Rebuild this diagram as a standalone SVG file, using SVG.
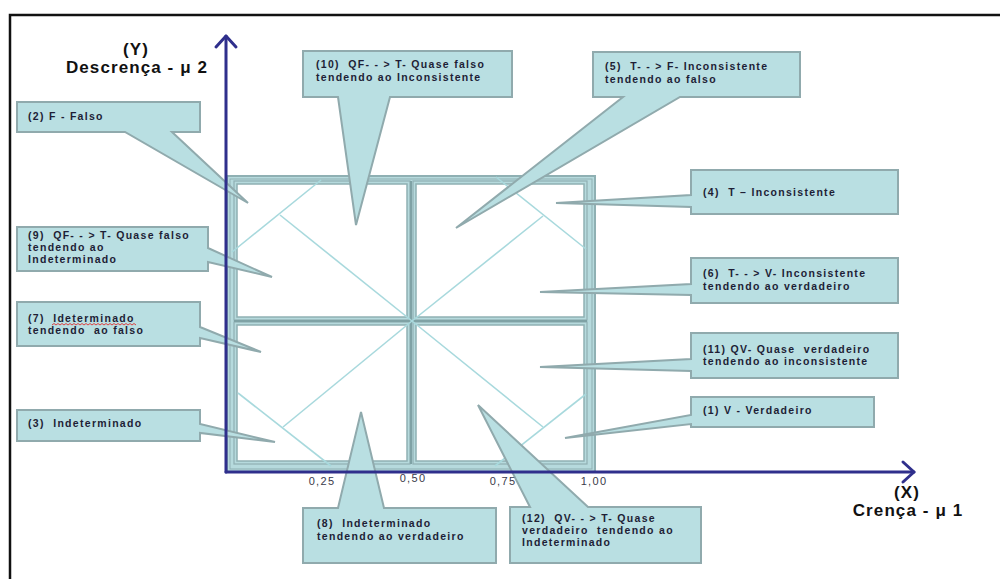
<svg xmlns="http://www.w3.org/2000/svg" width="1000" height="579" viewBox="0 0 1000 579">
<style>
.co{fill:#b9dfe2;stroke:#90aaad;stroke-width:2;stroke-linejoin:miter}
.ct{font-family:"Liberation Sans",Arial,sans-serif;font-size:10.5px;font-weight:bold;fill:#1e1e36;letter-spacing:1.3px;white-space:pre}
.ax{font-family:"Liberation Sans",Arial,sans-serif;font-size:17px;font-weight:bold;fill:#111;letter-spacing:1.1px;text-anchor:middle;white-space:pre}
.tk{font-family:"Liberation Sans",Arial,sans-serif;font-size:11px;fill:#3a3a4a;letter-spacing:1.3px;text-anchor:middle}
.diag{stroke:#a8d9dd;stroke-width:1.6;fill:none}
.cellw{fill:#fff;stroke:#8fb0b3;stroke-width:1.5}
.cello{fill:none;stroke:#8fb0b3;stroke-width:1.2}
.axis{stroke:#2f2f8c;stroke-width:3;fill:none;stroke-linecap:round;stroke-linejoin:round}
</style>
<rect x="0" y="0" width="1000" height="579" fill="#fff"/>
<path d="M10,1000 V15 H1000" fill="none" stroke="#111" stroke-width="2.5"/>

<g id="grid">
<rect x="227" y="176" width="368" height="296" fill="#b6dadd" stroke="#8fb0b3" stroke-width="2"/>
<rect x="230" y="179" width="362" height="290" fill="none" stroke="#8fb0b3" stroke-width="1"/>
<rect class="cello" x="234" y="181" width="176" height="139"/>
<rect class="cello" x="413" y="181" width="174" height="139"/>
<rect class="cello" x="234" y="322" width="176" height="142"/>
<rect class="cello" x="413" y="322" width="174" height="142"/>
<rect class="cellw" x="237" y="184" width="170" height="133"/>
<rect class="cellw" x="416" y="184" width="168" height="133"/>
<rect class="cellw" x="237" y="325" width="170" height="136"/>
<rect class="cellw" x="416" y="325" width="168" height="136"/>
<line x1="411" y1="181" x2="411" y2="464" stroke="#7fa2a5" stroke-width="2"/>
<line x1="234" y1="321" x2="587" y2="321" stroke="#7fa2a5" stroke-width="2"/>
<g class="diag">
<line x1="232" y1="252" x2="321" y2="180"/>
<line x1="280" y1="215" x2="412" y2="321"/>
<line x1="496" y1="177" x2="586" y2="249"/>
<line x1="543" y1="216" x2="412" y2="321"/>
<line x1="238" y1="393" x2="331" y2="466"/>
<line x1="283" y1="427" x2="412" y2="321"/>
<line x1="586" y1="394" x2="495" y2="466"/>
<line x1="543" y1="427" x2="412" y2="321"/>
</g>
</g>

<g id="n2"><path class="co" d="M17,102 H200 V132 H172 L248,203 L125,132 H17 Z"/><text class="ct" x="28" y="120">(2) F - Falso</text></g>
<g id="n10"><path class="co" d="M303,51 H512 V97 H390 L356,225 L338,97 H303 Z"/><text class="ct" x="316" y="68">(10)  QF- - &gt; T- Quase falso</text><text class="ct" x="316" y="81">tendendo ao Inconsistente</text></g>
<g id="n5"><path class="co" d="M593,52 H800 V97 H680 L456,228 L623,97 H593 Z"/><text class="ct" x="605" y="70">(5)  T- - &gt; F- Inconsistente</text><text class="ct" x="605" y="83">tendendo ao falso</text></g>
<g id="n4"><path class="co" d="M691,170 H898 V214 H691 V207 L556,203 L691,195 Z"/><text class="ct" x="703" y="196">(4)  T – Inconsistente</text></g>
<g id="n9"><path class="co" d="M17,227 H208 V248 L272,277 L208,262 V271 H17 Z"/><text class="ct" x="28" y="239">(9)  QF- - &gt; T- Quase falso</text><text class="ct" x="28" y="251">tendendo ao</text><text class="ct" x="28" y="263">Indeterminado</text></g>
<g id="n6"><path class="co" d="M691,258 H898 V303 H691 V295 L540,292 L691,284 Z"/><text class="ct" x="703" y="277">(6)  T- - &gt; V- Inconsistente</text><text class="ct" x="703" y="290">tendendo ao verdadeiro</text></g>
<g id="n7"><path class="co" d="M17,302 H200 V327 L261,352 L200,338 V346 H17 Z"/><text class="ct" x="28" y="322">(7)  Ideterminado</text><text class="ct" x="28" y="334">tendendo  ao falso</text><path d="M52,325 l2,-1.5 l2,1.5 l2,-1.5 l2,1.5 l2,-1.5 l2,1.5 l2,-1.5 l2,1.5 l2,-1.5 l2,1.5 l2,-1.5 l2,1.5 l2,-1.5 l2,1.5 l2,-1.5 l2,1.5 l2,-1.5 l2,1.5 l2,-1.5 l2,1.5 l2,-1.5 l2,1.5 l2,-1.5 l2,1.5 l2,-1.5 l2,1.5 l2,-1.5 l2,1.5 l2,-1.5 l2,1.5 l2,-1.5 l2,1.5 l2,-1.5 l2,1.5 l2,-1.5 l2,1.5 l2,-1.5 l2,1.5 l2,-1.5 l2,1.5 l2,-1.5 l2,1.5" fill="none" stroke="#e03030" stroke-width="0.9"/></g>
<g id="n11"><path class="co" d="M691,333 H898 V378 H691 V371 L540,367 L691,359 Z"/><text class="ct" x="703" y="353">(11) QV- Quase  verdadeiro</text><text class="ct" x="703" y="365">tendendo ao inconsistente</text></g>
<g id="n3"><path class="co" d="M17,410 H200 V424 L275,442 L200,433 V441 H17 Z"/><text class="ct" x="28" y="427">(3)  Indeterminado</text></g>
<g id="n1"><path class="co" d="M691,397 H874 V427 H691 V424 L565,438 L691,415 Z"/><text class="ct" x="703" y="414">(1) V - Verdadeiro</text></g>
<g id="n8"><path class="co" d="M303,508 H338 L361,412 L384,508 H496 V563 H303 Z"/><text class="ct" x="317" y="527">(8)  Indeterminado</text><text class="ct" x="317" y="540">tendendo ao verdadeiro</text></g>
<g id="n12"><path class="co" d="M510,507 H530 L478,405 L588,507 H701 V563 H510 Z"/><text class="ct" x="522" y="522">(12)  QV- - &gt; T- Quase</text><text class="ct" x="522" y="534">verdadeiro  tendendo ao</text><text class="ct" x="522" y="546">Indeterminado</text></g>

<g id="connectors">
<path class="axis" d="M226,472 V36"/>
<path class="axis" d="M216,47 L226,36 L236,47"/>
<path class="axis" d="M226,472 H914"/>
<path class="axis" d="M903,462 L914,472 L903,482"/>
</g>

<g id="labels">
<text class="ax" x="136" y="55">(Y)</text>
<text class="ax" x="137" y="73">Descrença - μ 2</text>
<text class="ax" x="907" y="498">(X)</text>
<text class="ax" x="908" y="516">Crença - μ 1</text>
<text class="tk" x="322" y="485">0,25</text>
<text class="tk" x="413" y="482">0,50</text>
<text class="tk" x="503" y="485">0,75</text>
<text class="tk" x="594" y="485">1,00</text>
</g>
</svg>
